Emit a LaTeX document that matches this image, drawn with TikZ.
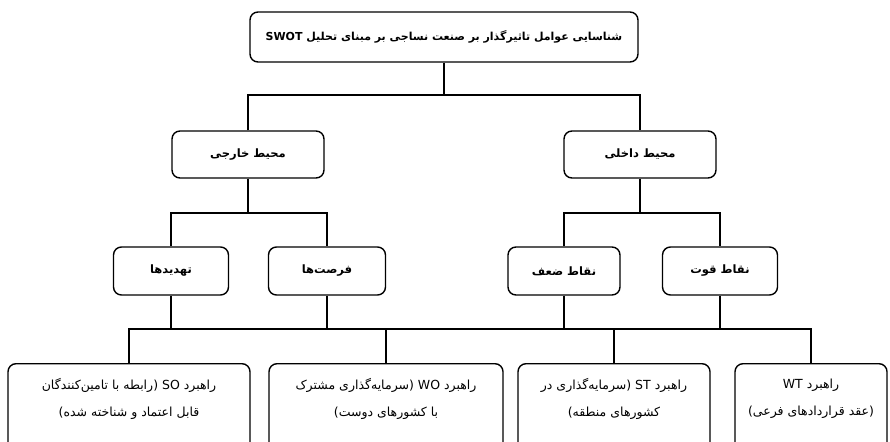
\documentclass[tikz,border=0pt]{standalone}
\usepackage{fontspec}
\newfontfamily\fa[Script=Arabic]{DejaVu Sans}
\TeXXeTstate=1
\begin{document}
\begin{tikzpicture}[x=1pt, y=-1pt,
  box/.style={draw, line width=1.4pt, rounded corners=8pt, align=center},
  topbox/.style={box, minimum width=388pt, minimum height=50pt,
                 font=\fa\bfseries\fontsize{11}{14}\selectfont},
  envbox/.style={box, minimum width=152pt, minimum height=47pt,
                 font=\fa\bfseries\fontsize{11.5}{14}\selectfont},
  factbox/.style={box, minimum height=48pt,
                  font=\fa\bfseries\fontsize{11.5}{14}\selectfont},
  stratbox/.style={box, anchor=north, inner ysep=15pt,
                   font=\fa\fontsize{12.5}{27}\selectfont},
  tree/.style={line width=1.4pt}
]
\useasboundingbox (0,0) rectangle (890,441);
\clip (0,0) rectangle (890,441);

% levels
\node[topbox] (title) at (444,37) {\beginR شناسایی عوامل تاثیرگذار بر صنعت نساجی بر مبنای تحلیل SWOT\endR};
\node[envbox] (ext) at (248,154.5) {\beginR محیط خارجی\endR};
\node[envbox] (int) at (640,154.5) {\beginR محیط داخلی\endR};
\node[factbox, minimum width=115pt] (threats) at (171,271) {\beginR تهدیدها\endR};
\node[factbox, minimum width=117pt] (opps)    at (327,271) {\beginR فرصت‌ها\endR};
\node[factbox, minimum width=112pt] (weak)    at (564,271) {\beginR نقاط ضعف\endR};
\node[factbox, minimum width=115pt] (strong)  at (720,271) {\beginR نقاط قوت\endR};

% strategies
\node[stratbox, minimum width=242pt] (SO) at (129,363)
  {\beginR راهبرد SO (رابطه با تامین‌کنندگان\endR\\\beginR قابل اعتماد و شناخته شده)\endR\\[20pt]};
\node[stratbox, minimum width=234pt] (WO) at (386,363)
  {\beginR راهبرد WO (سرمایه‌گذاری مشترک\endR\\\beginR با کشورهای دوست)\endR\\[20pt]};
\node[stratbox, minimum width=192pt] (ST) at (614,363)
  {\beginR راهبرد ST (سرمایه‌گذاری در\endR\\\beginR کشورهای منطقه)\endR\\[20pt]};
\node[stratbox, minimum width=152pt] (WT) at (811,363)
  {\beginR راهبرد WT\endR\\\beginR (عقد قراردادهای فرعی)\endR\\[20pt]};

% connectors
\coordinate (j1) at (444,95);
\coordinate (j2) at (248,213);
\coordinate (j3) at (640,213);
\coordinate (j4) at (470,329);
\draw[tree] (title.south) -- (j1);
\draw[tree] (ext.north) |- (j1) -| (int.north);
\draw[tree] (ext.south) -- (j2);
\draw[tree] (threats.north) |- (j2) -| (opps.north);
\draw[tree] (int.south) -- (j3);
\draw[tree] (weak.north) |- (j3) -| (strong.north);
\draw[tree] (SO.north) |- (j4) -| (WT.north);
\foreach \n in {threats,opps,weak,strong}
  \draw[tree] (\n.south) -- (\n.south |- j4);
\foreach \n in {WO,ST}
  \draw[tree] (\n.north) -- (\n.north |- j4);
\end{tikzpicture}
\end{document}
